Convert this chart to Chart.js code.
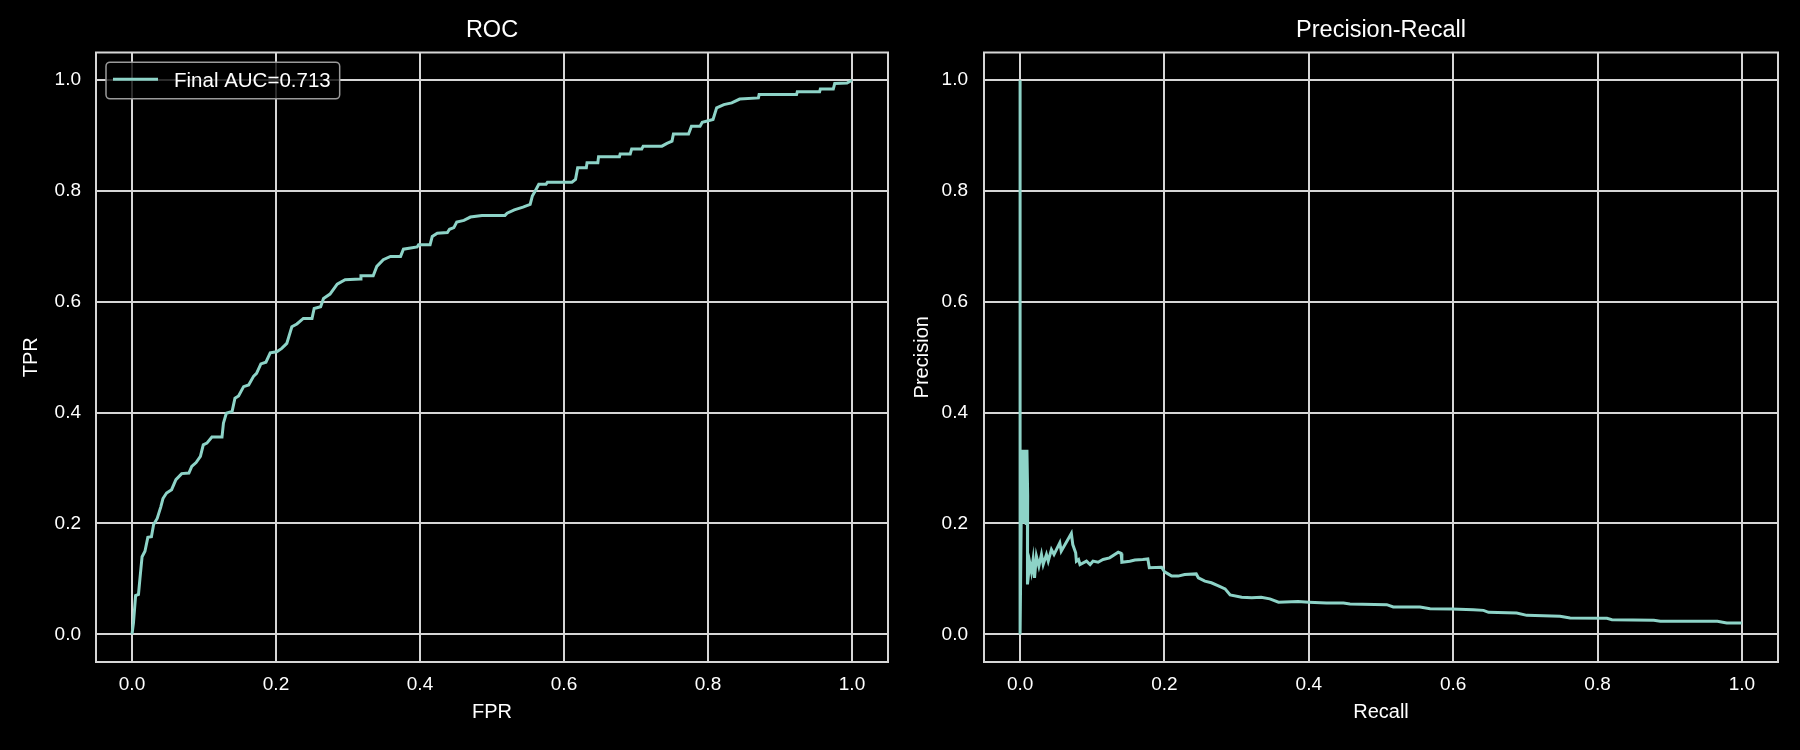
<!DOCTYPE html>
<html>
<head>
<meta charset="utf-8">
<script src="https://cdn.jsdelivr.net/npm/chart.js@4.4.1/dist/chart.umd.min.js"></script>
<style>
  html, body { margin: 0; padding: 0; background: #000; }
  #wrap { position: relative; width: 1800px; height: 750px; }
  canvas { position: absolute; top: 0; }
  #roc { left: 0; }
  #pr { left: 900px; }
</style>
</head>
<body>
<div id="wrap">
  <canvas id="roc" width="900" height="750"></canvas>
  <canvas id="pr" width="900" height="750"></canvas>
</div>
<script>
// ROC curve (step corners)
var rocFpr = [0.000, 0.002, 0.005, 0.009, 0.011, 0.014, 0.018, 0.022, 0.027, 0.030,
  0.035, 0.040, 0.043, 0.048, 0.055, 0.061, 0.069, 0.079, 0.083, 0.089,
  0.095, 0.099, 0.104, 0.111, 0.125, 0.127, 0.131, 0.139, 0.143, 0.148,
  0.155, 0.162, 0.169, 0.173, 0.179, 0.186, 0.192, 0.201, 0.208, 0.215,
  0.222, 0.229, 0.238, 0.250, 0.253, 0.262, 0.266, 0.275, 0.285, 0.296,
  0.317, 0.318, 0.335, 0.340, 0.349, 0.359, 0.373, 0.377, 0.396, 0.398,
  0.414, 0.417, 0.424, 0.438, 0.441, 0.447, 0.451, 0.461, 0.470, 0.486,
  0.518, 0.521, 0.531, 0.543, 0.553, 0.556, 0.560, 0.565, 0.575, 0.577,
  0.611, 0.616, 0.619, 0.631, 0.632, 0.647, 0.648, 0.677, 0.678, 0.692,
  0.694, 0.708, 0.710, 0.736, 0.743, 0.750, 0.752, 0.773, 0.777, 0.789,
  0.792, 0.807, 0.812, 0.822, 0.833, 0.844, 0.870, 0.871, 0.923, 0.924,
  0.955, 0.956, 0.974, 0.976, 0.993, 1.000];
var rocTpr = [0.000, 0.020, 0.070, 0.072, 0.100, 0.140, 0.150, 0.175, 0.176, 0.198,
  0.209, 0.230, 0.245, 0.255, 0.261, 0.279, 0.290, 0.291, 0.303, 0.310,
  0.321, 0.342, 0.345, 0.356, 0.356, 0.381, 0.399, 0.402, 0.426, 0.430,
  0.447, 0.450, 0.466, 0.471, 0.488, 0.491, 0.508, 0.510, 0.516, 0.525,
  0.555, 0.560, 0.570, 0.570, 0.588, 0.591, 0.606, 0.614, 0.632, 0.640,
  0.641, 0.647, 0.647, 0.664, 0.676, 0.682, 0.682, 0.695, 0.699, 0.703,
  0.703, 0.718, 0.724, 0.725, 0.731, 0.734, 0.744, 0.747, 0.753, 0.756,
  0.756, 0.760, 0.766, 0.771, 0.776, 0.791, 0.800, 0.812, 0.812, 0.816,
  0.816, 0.821, 0.842, 0.842, 0.851, 0.851, 0.862, 0.862, 0.867, 0.867,
  0.876, 0.876, 0.881, 0.881, 0.886, 0.890, 0.903, 0.903, 0.917, 0.917,
  0.924, 0.929, 0.950, 0.956, 0.959, 0.966, 0.968, 0.974, 0.974, 0.979,
  0.979, 0.984, 0.984, 0.994, 0.995, 1.000];

// Precision-Recall curve
var prRecall = [0, 0, 0.0025, 0.003, 0.0045, 0.0055, 0.007, 0.0085, 0.0095, 0.0105,
  0.0102, 0.0134, 0.0157, 0.018, 0.020, 0.0226, 0.026, 0.0296, 0.032, 0.0365,
  0.039, 0.0434, 0.047, 0.055, 0.057, 0.071, 0.073, 0.077, 0.078, 0.081,
  0.083, 0.092, 0.097, 0.101, 0.108, 0.115, 0.124, 0.136, 0.140, 0.141,
  0.152, 0.159, 0.170, 0.177, 0.179, 0.196, 0.200, 0.205, 0.210, 0.219,
  0.228, 0.244, 0.247, 0.256, 0.265, 0.274, 0.284, 0.291, 0.307, 0.321,
  0.334, 0.346, 0.358, 0.385, 0.400, 0.4245, 0.448, 0.457, 0.508, 0.517,
  0.554, 0.568, 0.598, 0.628, 0.642, 0.649, 0.688, 0.702, 0.748, 0.762,
  0.813, 0.820, 0.878, 0.887, 0.966, 0.979, 1.000];
var prPrecision = [1.0, 0.0, 0.333, 0.25, 0.333, 0.2, 0.333, 0.2, 0.333, 0.25,
  0.090, 0.129, 0.113, 0.135, 0.102, 0.141, 0.123, 0.144, 0.126, 0.144,
  0.132, 0.153, 0.144, 0.165, 0.150, 0.182, 0.162, 0.147, 0.132, 0.135,
  0.126, 0.132, 0.126, 0.132, 0.130, 0.135, 0.138, 0.148, 0.146, 0.130,
  0.132, 0.134, 0.135, 0.136, 0.120, 0.121, 0.113, 0.109, 0.105, 0.105,
  0.108, 0.109, 0.102, 0.096, 0.093, 0.088, 0.082, 0.071, 0.067, 0.066,
  0.067, 0.064, 0.058, 0.059, 0.058, 0.0565, 0.0565, 0.0547, 0.0535, 0.0493,
  0.0493, 0.0462, 0.0456, 0.0444, 0.0432, 0.0396, 0.0384, 0.0342, 0.0324, 0.0294,
  0.0288, 0.0264, 0.0252, 0.0234, 0.0234, 0.0204, 0.0204];

var tickValues = [0, 0.2, 0.4, 0.6, 0.8, 1.0];
var aucLabel = 'Final AUC=0.713';

var CURVE = '#8dd3c7';
var GRID = '#d6d6d6';
var TEXT = '#ffffff';
var FONT = "'Liberation Sans', Arial, sans-serif";

function toPoints(xs, ys) {
  return xs.map(function(x, i) { return {x: x, y: ys[i]}; });
}

// matplotlib-like frame round the plot area
var framePlugin = {
  id: 'frame',
  afterDatasetsDraw: function(chart) {
    var a = chart.chartArea, ctx = chart.ctx;
    ctx.save();
    ctx.strokeStyle = GRID;
    ctx.lineWidth = 2;
    ctx.strokeRect(a.left, a.top, a.right - a.left, a.bottom - a.top);
    ctx.restore();
  }
};

// legend box inside the axes, upper left
var innerLegend = {
  id: 'innerLegend',
  afterDraw: function(chart) {
    if (!chart.options.plugins.innerLegend || !chart.options.plugins.innerLegend.show) return;
    var a = chart.chartArea, ctx = chart.ctx;
    var ds = chart.data.datasets[0];
    ctx.save();
    ctx.font = '20.5px ' + FONT;
    var tw = ctx.measureText(ds.label).width;
    var x0 = a.left + 10, y0 = a.top + 9.7;
    var w = 68 + tw + 9, h = 36.6;
    ctx.beginPath();
    if (ctx.roundRect) ctx.roundRect(x0, y0, w, h, 4); else ctx.rect(x0, y0, w, h);
    ctx.fillStyle = 'rgba(0,0,0,0.8)';
    ctx.fill();
    ctx.lineWidth = 1.5;
    ctx.strokeStyle = '#9a9a9a';
    ctx.stroke();
    ctx.beginPath();
    ctx.moveTo(x0 + 7, y0 + 17);
    ctx.lineTo(x0 + 52, y0 + 17);
    ctx.strokeStyle = ds.borderColor;
    ctx.lineWidth = 3;
    ctx.stroke();
    ctx.fillStyle = TEXT;
    ctx.textBaseline = 'alphabetic';
    ctx.fillText(ds.label, x0 + 68, y0 + 25);
    ctx.restore();
  }
};

function makeChart(id, title, xLabel, yLabel, points, label, cfg) {
  var ctx = document.getElementById(id).getContext('2d');
  return new Chart(ctx, {
    type: 'scatter',
    data: {
      datasets: [{
        label: label,
        data: points,
        showLine: true,
        borderColor: CURVE,
        backgroundColor: CURVE,
        borderWidth: 3,
        pointRadius: 0,
        tension: 0
      }]
    },
    options: {
      responsive: false,
      animation: false,
      layout: { padding: { left: 0, right: cfg.padRight, top: 0, bottom: 0 } },
      plugins: {
        legend: { display: false },
        tooltip: { enabled: false },
        innerLegend: { show: cfg.legend },
        title: {
          display: true,
          text: title,
          color: TEXT,
          fullSize: false,
          font: { family: FONT, size: 23.5, weight: 'normal', lineHeight: 1.2 },
          padding: { top: 16.3, bottom: 8 }
        }
      },
      scales: {
        x: {
          type: 'linear',
          min: -0.05,
          max: 1.05,
          afterBuildTicks: function(s) { s.ticks = tickValues.map(function(v) { return {value: v}; }); },
          afterFit: function(s) { s.height = 88; },
          grid: { color: GRID, lineWidth: 2, drawTicks: false },
          border: { display: false },
          ticks: {
            color: TEXT, padding: 11,
            font: { family: FONT, size: 19 },
            callback: function(v) { return v.toFixed(1); }
          },
          title: {
            display: true, text: xLabel, color: TEXT,
            font: { family: FONT, size: 20, lineHeight: 1.2 },
            padding: { top: 0, bottom: 26 }
          }
        },
        y: {
          type: 'linear',
          min: -0.05,
          max: 1.05,
          afterBuildTicks: function(s) { s.ticks = tickValues.map(function(v) { return {value: v}; }); },
          afterFit: function(s) { s.width = cfg.yWidth; },
          grid: { color: GRID, lineWidth: 2, drawTicks: false },
          border: { display: false },
          ticks: {
            color: TEXT, padding: cfg.yTickPad,
            font: { family: FONT, size: 19 },
            callback: function(v) { return v.toFixed(1); }
          },
          title: {
            display: true, text: yLabel, color: TEXT,
            font: { family: FONT, size: 20, lineHeight: 1.2 },
            padding: { top: cfg.yTitlePad, bottom: 0 }
          }
        }
      }
    },
    plugins: [framePlugin, innerLegend]
  });
}

makeChart('roc', 'ROC', 'FPR', 'TPR', toPoints(rocFpr, rocTpr), aucLabel,
  { padRight: 12, yWidth: 96, yTickPad: 15, yTitlePad: 19.5, legend: true });
makeChart('pr', 'Precision-Recall', 'Recall', 'Precision', toPoints(prRecall, prPrecision), 'PR',
  { padRight: 22, yWidth: 84, yTickPad: 16, yTitlePad: 10, legend: false });
</script>
</body>
</html>
